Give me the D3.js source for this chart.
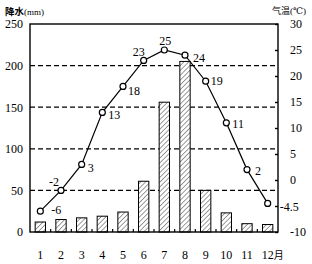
<!DOCTYPE html>
<html>
<head>
<meta charset="utf-8">
<script src="https://cdn.jsdelivr.net/npm/d3@7"></script>
<style>
  body { margin: 0; background: #fff; }
  text { font-family: "Liberation Serif", "DejaVu Serif", serif; }
</style>
</head>
<body>
<svg id="chart"></svg>
<script>
// monthly climate data
let months = [1, 2, 3, 4, 5, 6, 7, 8, 9, 10, 11, 12];
let precip = [12, 15, 17, 19, 24, 61, 156, 205, 50, 23, 10, 9];
let temps = [-6, -2, 3, 13, 18, 23, 25, 24, 19, 11, 2, -4.5];
let precipTicks = [0, 50, 100, 150, 200, 250];
let tempTicks = [-10, -5, 0, 5, 10, 15, 20, 25, 30];
let gridTicks = [50, 100, 150, 200];

// where each temperature label sits relative to its point
let labelOffsets = [
  [11, 3], [-12, -4], [6, 8], [6, 7], [5, 9], [-11, -4],
  [-5, -5], [8, 7], [5, 4], [6, 5], [8, 5], [12, 8]
];

let w = 312;
let h = 264;
let padL = 30, padR = 278, padT = 24, padB = 232;

let svg = d3.select('#chart').attr('width', w).attr('height', h);

let xScale = d3.scaleBand()
  .domain(months)
  .range([padL, padR])
  .paddingInner(0.5)
  .paddingOuter(0.25);

let yP = d3.scaleLinear().domain([0, 250]).range([padB, padT]);
let yT = d3.scaleLinear().domain([-10, 30]).range([padB, padT]);

// hatch pattern for bars
let defs = svg.append('defs');
let pat = defs.append('pattern')
  .attr('id', 'hatch')
  .attr('patternUnits', 'userSpaceOnUse')
  .attr('width', 3.4)
  .attr('height', 3.4)
  .attr('patternTransform', 'rotate(45)');
pat.append('rect').attr('width', 3.4).attr('height', 3.4).attr('fill', '#fff');
pat.append('line')
  .attr('x1', 0).attr('y1', 0).attr('x2', 0).attr('y2', 3.4)
  .attr('stroke', '#222').attr('stroke-width', 0.9);

// dashed grid
svg.append('g')
  .selectAll('line')
  .data(gridTicks)
  .enter()
  .append('line')
  .attr('x1', padL)
  .attr('x2', padR)
  .attr('y1', d => yP(d))
  .attr('y2', d => yP(d))
  .attr('stroke', '#000')
  .attr('stroke-width', 1.2)
  .attr('stroke-dasharray', '5,3');

// bars
svg.append('g')
  .selectAll('rect')
  .data(months)
  .enter()
  .append('rect')
  .attr('x', d => xScale(d))
  .attr('width', xScale.bandwidth())
  .attr('y', (d, i) => yP(precip[i]))
  .attr('height', (d, i) => yP(0) - yP(precip[i]))
  .attr('fill', 'url(#hatch)')
  .attr('stroke', '#000')
  .attr('stroke-width', 1);

// frame
svg.append('rect')
  .attr('x', padL)
  .attr('y', padT)
  .attr('width', padR - padL)
  .attr('height', padB - padT)
  .attr('fill', 'none')
  .attr('stroke', '#000')
  .attr('stroke-width', 1.4);

// left axis
let yAxisL = d3.axisLeft(yP)
  .tickValues(precipTicks)
  .tickSize(0)
  .tickPadding(7);
let gL = svg.append('g')
  .attr('transform', 'translate(' + padL + ',0)')
  .call(yAxisL);
gL.select('.domain').remove();

// right axis, ticks pointing inward
let yAxisR = d3.axisRight(yT)
  .tickValues(tempTicks)
  .tickSizeInner(-3)
  .tickSizeOuter(0)
  .tickPadding(12)
  .tickFormat(d => d === -5 ? '' : d === -10 ? '-10' : d);
let gR = svg.append('g')
  .attr('transform', 'translate(' + padR + ',0)')
  .call(yAxisR);
gR.select('.domain').remove();
gR.selectAll('line').attr('stroke-width', 1.4);

// bottom axis labels
let xAxis = d3.axisBottom(xScale)
  .tickSize(0)
  .tickPadding(18);
let gB = svg.append('g')
  .attr('transform', 'translate(0,' + padB + ')')
  .call(xAxis);
gB.select('.domain').remove();
gB.selectAll('.tick text')
  .filter(d => d === 12)
  .attr('text-anchor', 'start')
  .attr('dx', '-0.5em')
  .append('tspan')
  .style('font-family', '"Noto Sans CJK SC"')
  .style('font-size', '10px')
  .text('月');

// small ticks between months
svg.append('g')
  .selectAll('line')
  .data(months.slice(1))
  .enter()
  .append('line')
  .attr('x1', d => xScale(d) - (xScale.step() - xScale.bandwidth()) / 2)
  .attr('x2', d => xScale(d) - (xScale.step() - xScale.bandwidth()) / 2)
  .attr('y1', padB)
  .attr('y2', padB - 3)
  .attr('stroke', '#000')
  .attr('stroke-width', 1.2);

svg.selectAll('.tick text')
  .style('font-size', '12px')
  .attr('fill', '#000');

// temperature line
let cx = (d, i) => xScale(months[i]) + xScale.bandwidth() / 2;
let line = d3.line()
  .x((d, i) => cx(d, i))
  .y(d => yT(d));

svg.append('path')
  .datum(temps)
  .attr('d', line)
  .attr('fill', 'none')
  .attr('stroke', '#000')
  .attr('stroke-width', 1.2);

svg.append('g')
  .selectAll('circle')
  .data(temps)
  .enter()
  .append('circle')
  .attr('cx', (d, i) => cx(d, i))
  .attr('cy', d => yT(d))
  .attr('r', 3)
  .attr('fill', '#fff')
  .attr('stroke', '#000')
  .attr('stroke-width', 1.2);

svg.append('g')
  .selectAll('text')
  .data(temps)
  .enter()
  .append('text')
  .attr('x', (d, i) => cx(d, i) + labelOffsets[i][0])
  .attr('y', (d, i) => yT(d) + labelOffsets[i][1])
  .style('font-size', '12px')
  .text(d => d);

// axis titles
let titleL = svg.append('text')
  .attr('x', 5)
  .attr('y', 15);
titleL.append('tspan')
  .style('font-family', '"Noto Sans CJK SC"')
  .style('font-size', '9.5px')
  .style('font-weight', 'bold')
  .text('降水');
titleL.append('tspan')
  .style('font-size', '9px')
  .text('(mm)');

let titleR = svg.append('text')
  .attr('x', 272)
  .attr('y', 14);
titleR.append('tspan')
  .style('font-family', '"Noto Sans CJK SC"')
  .style('font-size', '9px')
  .text('气温');
titleR.append('tspan')
  .style('font-size', '9px')
  .text('(℃)');
</script>
</body>
</html>
